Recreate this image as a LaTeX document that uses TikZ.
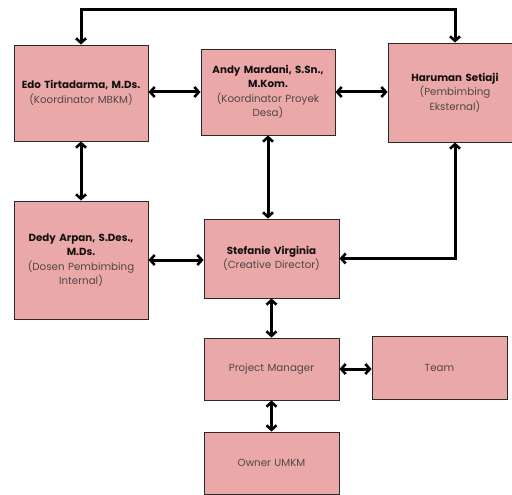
\documentclass[tikz,border=0pt]{standalone}
\usepackage{fontspec}
\setmainfont{Poppins}
\usetikzlibrary{arrows.meta}
\definecolor{boxfill}{RGB}{234,169,168}
\definecolor{boxline}{RGB}{45,40,40}
\definecolor{subtext}{RGB}{80,70,70}
\definecolor{maintext}{RGB}{20,15,15}
\tikzset{
  orgbox/.style={draw=boxline, line width=0.9pt, fill=boxfill, align=center,
    inner sep=0pt, text width=#1, font=\fontsize{10.3}{14.5}\selectfont, text=maintext},
  conn/.style={line width=3pt, line join=miter, black,
    {Straight Barb[length=4.5pt,width=10pt,line width=2.6pt]}-{Straight Barb[length=4.5pt,width=10pt,line width=2.6pt]}}
}
\newcommand{\subt}[1]{{\color{subtext}#1}}
\begin{document}
\begin{tikzpicture}[x=1pt,y=-1pt]
\useasboundingbox (0,0) rectangle (512,495);
\fill[white] (0,0) rectangle (512,495);
\node[orgbox=132pt, minimum width=134pt, minimum height=96pt] (edo) at (81,93)
  {\textbf{Edo Tirtadarma, M.Ds.}\\\subt{(Koordinator MBKM)}};
\node[orgbox=132pt, minimum width=134pt, minimum height=86pt] (andy) at (268,92)
  {\textbf{Andy Mardani, S.Sn.,}\\\textbf{M.Kom.}\\\subt{(Koordinator Proyek}\\\subt{Desa)}};
\node[orgbox=132pt, minimum width=134pt, minimum height=99pt] (haru) at (455,92.5)
  {\textbf{Haruman Setiaji}\\\subt{(Pembimbing}\\\subt{Eksternal)}};
\node[orgbox=132pt, minimum width=134pt, minimum height=118pt] (dedy) at (81,260)
  {\textbf{Dedy Arpan, S.Des.,}\\\textbf{M.Ds.}\\\subt{(Dosen Pembimbing}\\\subt{Internal)}};
\node[orgbox=132pt, minimum width=135pt, minimum height=79pt] (stef) at (271.5,258.5)
  {\textbf{Stefanie Virginia}\\\subt{(Creative Director)}};
\node[orgbox=132pt, minimum width=135pt, minimum height=62pt] (pm) at (271.5,369)
  {\subt{Project Manager}};
\node[orgbox=132pt, minimum width=135pt, minimum height=63pt] (team) at (439.5,367.5)
  {\subt{Team}};
\node[orgbox=132pt, minimum width=135pt, minimum height=62pt] (owner) at (271.5,463)
  {\subt{Owner UMKM}};
\coordinate (topline) at (0,10);
\draw[conn] (edo.north) -- (edo.north |- topline) -- (haru.north |- topline) -- (haru.north);
\draw[conn] (andy.west -| edo.east) -- (andy.west);
\draw[conn] (andy.east) -- (andy.east -| haru.west);
\draw[conn] (edo.south) -- (dedy.north);
\draw[conn] (dedy.east) -- (dedy.east -| stef.west);
\draw[conn] (andy.south) -- (andy.south |- stef.north);
\draw[conn] (haru.south) |- (stef.east);
\draw[conn] (stef.south) -- (pm.north);
\draw[conn] (pm.east) -- (pm.east -| team.west);
\draw[conn] (pm.south) -- (owner.north);
\end{tikzpicture}
\end{document}
